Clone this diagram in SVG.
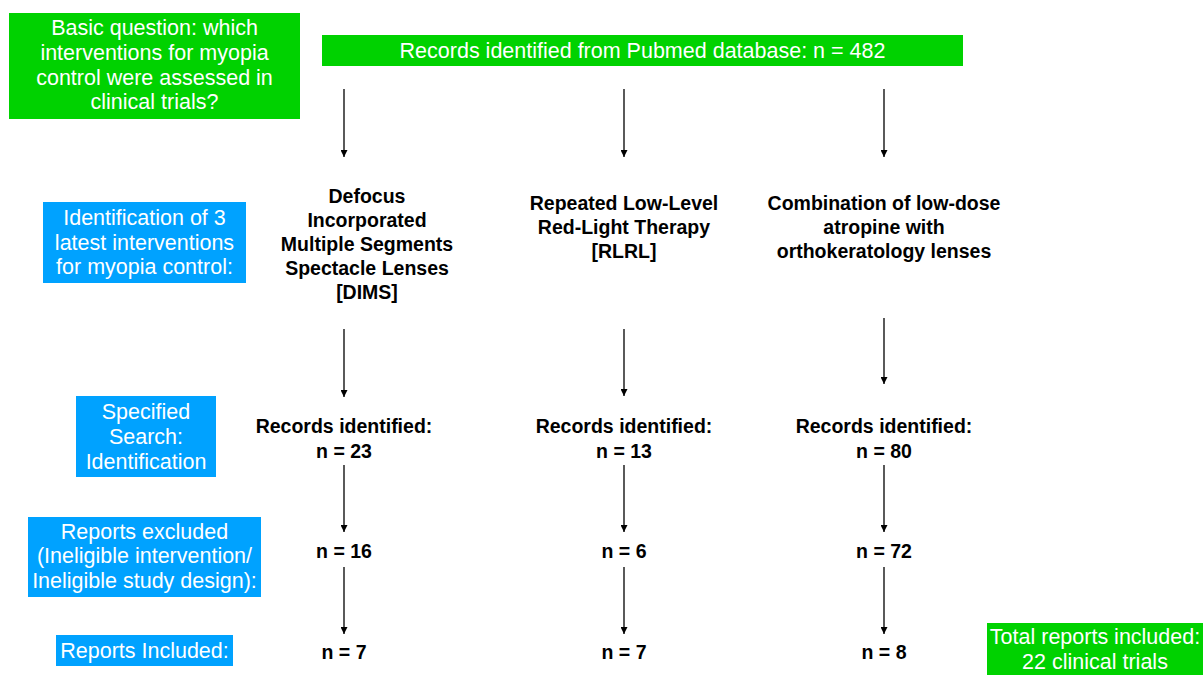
<svg xmlns="http://www.w3.org/2000/svg" width="1203" height="675" viewBox="0 0 1203 675">
<style>
.g{fill:#00D200}
.b{fill:#00A2FF}
.w{font-family:"Liberation Sans",Arial,sans-serif;font-size:21.5px;fill:#fff;text-anchor:middle;dominant-baseline:central}
.k{font-family:"Liberation Sans",Arial,sans-serif;font-size:19.5px;font-weight:bold;fill:#000;text-anchor:middle;dominant-baseline:central}
.c{stroke:#000;stroke-width:1.3;fill:none;marker-end:url(#ah)}
</style>
<defs>
<marker id="ah" viewBox="0 0 10 10" refX="10" refY="5" markerWidth="7" markerHeight="7" markerUnits="userSpaceOnUse" orient="auto">
<path d="M0,0 L10,5 L0,10 z" fill="#000"/>
</marker>
</defs>
<rect width="1203" height="675" fill="#fff"/>
<g id="question">
<rect class="g" x="9" y="13" width="291" height="106"/>
<text class="w" x="154.5" y="28">Basic question: which</text>
<text class="w" x="154.5" y="53">interventions for myopia</text>
<text class="w" x="154.5" y="78">control were assessed in</text>
<text class="w" x="154.5" y="102">clinical trials?</text>
</g>
<g id="records-pubmed">
<rect class="g" x="322" y="35" width="641" height="31"/>
<text class="w" x="642.5" y="50.5">Records identified from Pubmed database: n = 482</text>
</g>
<g id="label-identification">
<rect class="b" x="43" y="202" width="203" height="81"/>
<text class="w" x="144.5" y="218">Identification of 3</text>
<text class="w" x="144.5" y="243">latest interventions</text>
<text class="w" x="144.5" y="267">for myopia control:</text>
</g>
<g id="label-search">
<rect class="b" x="76" y="396" width="140" height="81"/>
<text class="w" x="146" y="412">Specified</text>
<text class="w" x="146" y="437">Search:</text>
<text class="w" x="146" y="462">Identification</text>
</g>
<g id="label-excluded">
<rect class="b" x="28" y="517" width="233" height="80"/>
<text class="w" x="144.5" y="532">Reports excluded</text>
<text class="w" x="144.5" y="556">(Ineligible intervention/</text>
<text class="w" x="144.5" y="581">Ineligible study design):</text>
</g>
<g id="label-included">
<rect class="b" x="56" y="635" width="177" height="31"/>
<text class="w" x="144.5" y="651">Reports Included:</text>
</g>
<g id="total">
<rect class="g" x="987" y="623" width="216" height="52"/>
<text class="w" x="1095" y="637">Total reports included:</text>
<text class="w" x="1095" y="662">22 clinical trials</text>
</g>
<g id="dims">
<text class="k" x="367" y="196">Defocus</text>
<text class="k" x="367" y="220">Incorporated</text>
<text class="k" x="367" y="244">Multiple Segments</text>
<text class="k" x="367" y="268">Spectacle Lenses</text>
<text class="k" x="367" y="292">[DIMS]</text>
</g>
<g id="rlrl">
<text class="k" x="624" y="203">Repeated Low-Level</text>
<text class="k" x="624" y="227">Red-Light Therapy</text>
<text class="k" x="624" y="251">[RLRL]</text>
</g>
<g id="combo">
<text class="k" x="884" y="203">Combination of low-dose</text>
<text class="k" x="884" y="227">atropine with</text>
<text class="k" x="884" y="251">orthokeratology lenses</text>
</g>
<g id="records-dims">
<text class="k" x="344" y="426">Records identified:</text>
<text class="k" x="344" y="451">n = 23</text>
</g>
<g id="records-rlrl">
<text class="k" x="624" y="426">Records identified:</text>
<text class="k" x="624" y="451">n = 13</text>
</g>
<g id="records-combo">
<text class="k" x="884" y="426">Records identified:</text>
<text class="k" x="884" y="451">n = 80</text>
</g>
<g id="excluded-dims"><text class="k" x="344" y="551">n = 16</text></g>
<g id="excluded-rlrl"><text class="k" x="624" y="551">n = 6</text></g>
<g id="excluded-combo"><text class="k" x="884" y="551">n = 72</text></g>
<g id="included-dims"><text class="k" x="344" y="652">n = 7</text></g>
<g id="included-rlrl"><text class="k" x="624" y="652">n = 7</text></g>
<g id="included-combo"><text class="k" x="884" y="652">n = 8</text></g>
<g id="connectors">
<line class="c" x1="344" y1="89" x2="344" y2="157"/>
<line class="c" x1="624" y1="89" x2="624" y2="157"/>
<line class="c" x1="884" y1="89" x2="884" y2="157"/>
<line class="c" x1="344" y1="329" x2="344" y2="397"/>
<line class="c" x1="624" y1="329" x2="624" y2="396"/>
<line class="c" x1="884" y1="318" x2="884" y2="384"/>
<line class="c" x1="344" y1="465" x2="344" y2="532"/>
<line class="c" x1="624" y1="465" x2="624" y2="532"/>
<line class="c" x1="884" y1="465" x2="884" y2="532"/>
<line class="c" x1="344" y1="567" x2="344" y2="634"/>
<line class="c" x1="624" y1="567" x2="624" y2="634"/>
<line class="c" x1="884" y1="567" x2="884" y2="634"/>
</g>
</svg>
